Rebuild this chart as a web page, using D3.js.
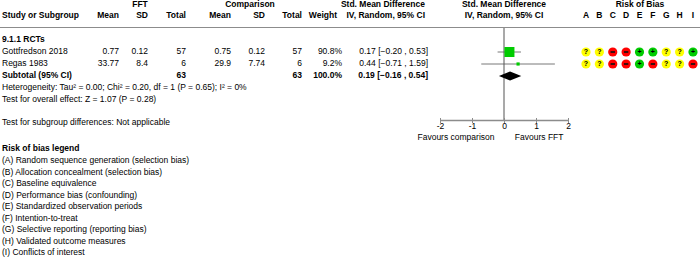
<!DOCTYPE html>
<html>
<head>
<meta charset="utf-8">
<script src="https://cdn.jsdelivr.net/npm/d3@7"></script>
<style>
  body { margin: 0; background: #fff; }
  text { font-family: "Liberation Sans", Arial, sans-serif; font-size: 8.5px; fill: #000; }
  .b { font-weight: bold; }
</style>
</head>
<body>
<svg id="chart" width="700" height="263"></svg>
<script>
// study rows
const studies = ["Gottfredson 2018", "Regas 1983"];
const fftMean = ["0.77", "33.77"];
const fftSD = ["0.12", "8.4"];
const fftTotal = [57, 6];
const compMean = ["0.75", "29.9"];
const compSD = ["0.12", "7.74"];
const compTotal = [57, 6];
const weights = [90.8, 9.2];
const smd = [0.17, 0.44];
const ciLow = [-0.20, -0.71];
const ciHigh = [0.53, 1.59];

// pooled
const pooled = { est: 0.19, lo: -0.16, hi: 0.54, fftN: 63, compN: 63, weight: "100.0%" };

const axisTicks = [-2, -1, 0, 1, 2];
const robLetters = ["A", "B", "C", "D", "E", "F", "G", "H", "I"];
// ? = unclear, - = high, + = low
const robRows = [
  ["?", "?", "-", "-", "+", "+", "?", "?", "+"],
  ["?", "?", "-", "-", "+", "-", "?", "?", "-"]
];
const robLegend = [
  "(A) Random sequence generation (selection bias)",
  "(B) Allocation concealment (selection bias)",
  "(C) Baseline equivalence",
  "(D) Performance bias (confounding)",
  "(E) Standardized observation periods",
  "(F) Intention-to-treat",
  "(G) Selective reporting (reporting bias)",
  "(H) Validated outcome measures",
  "(I) Conflicts of interest"
];

const svg = d3.select("#chart");

function txt(x, y, s, anchor, cls) {
  return svg.append("text")
    .attr("x", x).attr("y", y)
    .attr("text-anchor", anchor || "start")
    .attr("dominant-baseline", "middle")
    .attr("class", cls || null)
    .text(s);
}

// headers
txt(140, 5, "FFT", "middle", "b");
txt(250, 5, "Comparison", "middle", "b");
txt(425, 5, "Std. Mean Difference", "end", "b");
txt(504, 5, "Std. Mean Difference", "middle", "b");
txt(640, 5, "Risk of Bias", "middle", "b");

txt(2, 16, "Study or Subgroup", "start", "b");
txt(119, 16, "Mean", "end", "b");
txt(148, 16, "SD", "end", "b");
txt(186, 16, "Total", "end", "b");
txt(231, 16, "Mean", "end", "b");
txt(265, 16, "SD", "end", "b");
txt(302, 16, "Total", "end", "b");
txt(337, 16, "Weight", "end", "b");
txt(425, 16, "IV, Random, 95% CI", "end", "b");
txt(504, 16, "IV, Random, 95% CI", "middle", "b");

const rob = d3.scalePoint().domain(robLetters).range([586, 693]);
robLetters.forEach(l => txt(rob(l), 16, l, "middle", "b"));

svg.append("line")
  .attr("x1", 0).attr("x2", 700).attr("y1", 27.5).attr("y2", 27.5)
  .attr("stroke", "#8c8c8c").attr("stroke-width", 1);

txt(2, 40, "9.1.1 RCTs", "start", "b");

const y = d3.scaleBand().domain(studies).range([46, 70]);
const rowY = d => y(d) + y.bandwidth() / 2;
const x = d3.scaleLinear().domain([-2, 2]).range([440, 568]);
const f2 = d3.format(".2f");

studies.forEach((s, i) => {
  const yy = rowY(s);
  txt(2, yy, s);
  txt(119, yy, fftMean[i], "end");
  txt(148, yy, fftSD[i], "end");
  txt(186, yy, fftTotal[i], "end");
  txt(231, yy, compMean[i], "end");
  txt(265, yy, compSD[i], "end");
  txt(302, yy, compTotal[i], "end");
  txt(342, yy, weights[i].toFixed(1) + "%", "end");
  txt(428, yy, `${f2(smd[i])} [${f2(ciLow[i])} , ${f2(ciHigh[i])}]`, "end");
});

// subtotal row
const ySub = 76;
txt(2, ySub, "Subtotal (95% CI)", "start", "b");
txt(186, ySub, pooled.fftN, "end", "b");
txt(302, ySub, pooled.compN, "end", "b");
txt(342, ySub, pooled.weight, "end", "b");
txt(428, ySub, `${f2(pooled.est)} [${f2(pooled.lo)} , ${f2(pooled.hi)}]`, "end", "b");

txt(2, 88, "Heterogeneity: Tau\u00b2 = 0.00; Chi\u00b2 = 0.20, df = 1 (P = 0.65); I\u00b2 = 0%");
txt(2, 100, "Test for overall effect: Z = 1.07 (P = 0.28)");
txt(2, 123, "Test for subgroup differences: Not applicable");

// forest plot
const axisY = 120.5;
svg.append("line")
  .attr("x1", x(0)).attr("x2", x(0)).attr("y1", 28).attr("y2", axisY)
  .attr("stroke", "#8c8c8c").attr("stroke-width", 1.5);

const ax = svg.append("g")
  .attr("transform", `translate(0,${axisY})`)
  .call(d3.axisBottom(x).tickValues(axisTicks).tickSize(2).tickSizeOuter(0).tickPadding(1).tickFormat(d3.format("d")));
ax.select(".domain").attr("stroke", "#8c8c8c").attr("stroke-width", 1.5).attr("d", `M${x(-2)},0H${x(2)}`);
ax.selectAll(".tick line").attr("stroke", "#8c8c8c").attr("y1", -2.5).attr("y2", 2.5);
ax.selectAll(".tick text").attr("font-size", 8.5).attr("font-family", "Liberation Sans, Arial, sans-serif").attr("fill", "#000").attr("dy", "0.6em");
ax.selectAll(".tick text").text(d => d < 0 ? "-" + Math.abs(d) : d);

txt(x(-1.5), 138, "Favours comparison", "middle");
txt(x(1.1), 138, "Favours FFT", "middle");

// CIs and squares
studies.forEach((s, i) => {
  const yy = rowY(s);
  svg.append("line")
    .attr("x1", x(ciLow[i])).attr("x2", x(ciHigh[i]))
    .attr("y1", yy).attr("y2", yy)
    .attr("stroke", "#555").attr("stroke-width", 0.8);
  const sz = Math.sqrt(weights[i]) * 1.05;
  svg.append("rect")
    .attr("x", x(smd[i]) - sz / 2).attr("y", yy - sz / 2)
    .attr("width", sz).attr("height", sz)
    .attr("fill", "#00cc00");
});

// diamond
svg.append("path")
  .attr("d", `M${x(pooled.lo)},${ySub}L${x(pooled.est)},${ySub - 4.5}L${x(pooled.hi)},${ySub}L${x(pooled.est)},${ySub + 4.5}Z`)
  .attr("fill", "#000");

// risk of bias circles
const robColor = { "?": "#ffff00", "-": "#ff0000", "+": "#00cc00" };
robRows.forEach((row, i) => {
  const yy = rowY(studies[i]);
  row.forEach((v, j) => {
    const cx = rob(robLetters[j]);
    svg.append("circle").attr("cx", cx).attr("cy", yy).attr("r", 4.6).attr("fill", robColor[v]);
    if (v === "-") {
      svg.append("rect").attr("x", cx - 2.2).attr("y", yy - 0.8).attr("width", 4.4).attr("height", 1.6).attr("fill", "#111");
    } else {
      txt(cx, yy + 0.5, v, "middle", "b").style("font-size", "7px");
    }
  });
});

// legend
txt(2, 149, "Risk of bias legend", "start", "b");
robLegend.forEach((s, i) => txt(2, 161 + i * 11.5, s));
</script>
</body>
</html>
